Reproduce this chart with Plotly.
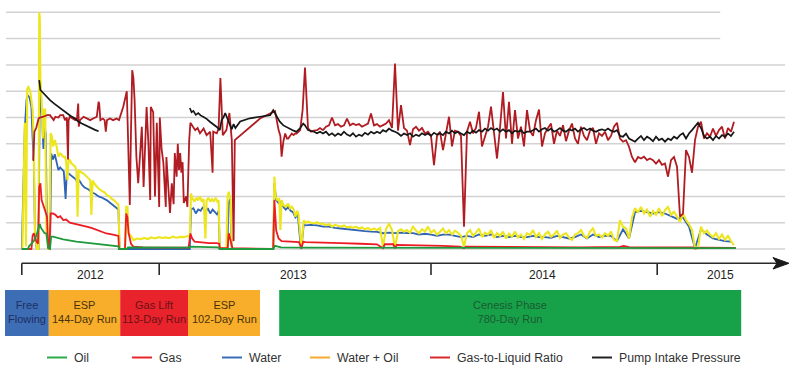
import plotly.graph_objects as go

# ---------------- data (x = days since start of record, y = relative grid units) ----------------
oil_pts = [(28, 0), (38, 0), (40, 0.1), (44, 0.22), (48, 0.3), (52, 0.5), (55, 0.72), (58, 0.95), (60, 0.8),
           (63, 0.72), (66, 0.6), (69, 0.59), (72, 0.03), (75, 0), (77, 0.47), (80, 0.47), (97, 0.37),
           (119, 0.28), (142, 0.22), (164, 0.15), (186, 0.11), (189, 0.1), (190, 0), (203, 0), (205, 0.06),
           (305, 0.05), (309, 0.09), (330, 0.08), (355, 0.06), (358, 0), (447, 0), (450, 0.12), (460, 0.06),
           (500, 0.05), (600, 0.05), (700, 0.04), (800, 0.03), (900, 0.03), (1000, 0.04), (1100, 0.03),
           (1218, 0.03)]

gas_pts = [(28, 0), (44, 0), (46, 0.5), (48, 0.6), (52, 0.3), (55, 0.2), (57, 2.37), (59, 2.5), (61, 1.86),
           (64, 1.6), (67, 1.45), (70, 1.23), (72, 0.05), (74, 0), (76, 1.35), (80, 1.35), (84, 1.3),
           (88, 1.2), (92, 1.25), (97, 1.1), (102, 1.12), (108, 1.0), (114, 0.97), (120, 0.95), (128, 0.9),
           (136, 0.85), (144, 0.8), (153, 0.72), (161, 0.66), (169, 0.59), (178, 0.56), (186, 0.53),
           (189, 0.5), (190, 0), (200, 0), (202, 1.35), (204, 1.2), (206, 0.6), (210, 0.2), (214, 0.09),
           (230, 0.06), (260, 0.05), (290, 0.06), (306, 0.05), (309, 0.59), (312, 0.4), (316, 0.28),
           (325, 0.25), (340, 0.22), (353, 0.22), (357, 0.2), (358, 0.03), (371, 0.03), (373, 0.6),
           (376, 0.3), (379, 0.03), (447, 0), (449, 1.86), (452, 0.7), (456, 0.4), (461, 0.3), (470, 0.29),
           (480, 0.28), (490, 0.26), (494, 0.03), (497, 0.28), (500, 0.26), (520, 0.24), (536, 0.22),
           (560, 0.22), (592, 0.2), (620, 0.18), (630, 0.03), (633, 0.18), (647, 0.18), (650, 0.03),
           (653, 0.16), (680, 0.15), (703, 0.13), (730, 0.12), (758, 0.09), (765, 0.03), (768, 0.09),
           (814, 0.08), (869, 0.06), (958, 0.06), (1025, 0.08), (1031, 0.12), (1040, 0.07), (1047, 0.06),
           (1100, 0.06), (1147, 0.06), (1150, 0.02), (1160, 0.05), (1218, 0.04)]

water_pts = [(28, 0), (31, 2.4), (33, 4.6), (36, 5.7), (38, 5.85), (41, 5.75), (44, 5.4), (46, 4.2),
             (48, 3.4), (50, 0.5), (53, 0), (56, 0), (58, 6.4), (60, 5.4), (62, 4.9), (64, 3.8), (66, 4.6),
             (68, 4.4), (70, 0.5), (73, 0), (75, 0), (77, 3.63), (80, 3.4), (83, 3.6), (86, 3.3), (89, 3.0),
             (92, 3.1), (95, 3.0), (98, 2.95), (101, 1.9), (103, 2.9), (106, 2.87), (110, 2.8), (114, 2.7),
             (118, 2.65), (121, 2.5), (124, 2.6), (128, 2.45), (132, 2.35), (136, 2.3), (140, 2.25),
             (145, 2.15), (150, 2.1), (156, 2.0), (162, 1.95), (170, 1.85), (178, 1.7), (186, 1.55),
             (189, 1.5), (191, 0), (308, 0), (310, 1.5), (314, 1.55), (318, 1.35), (322, 1.5), (326, 1.45),
             (330, 1.6), (334, 1.4), (338, 1.55), (342, 1.35), (346, 1.5), (350, 1.4), (354, 1.3),
             (356, 1.45), (358, 0), (371, 0), (372, 1.7), (375, 1.9), (378, 0), (447, 0), (449, 2.5),
             (452, 1.86), (456, 1.75), (460, 1.8), (464, 1.6), (468, 1.5), (472, 1.6), (476, 1.45),
             (480, 1.4), (484, 1.2), (488, 1.3), (492, 0.3), (494, 0), (496, 0.5), (498, 0.95)]
water_cen = [0.9, 0.92, 0.9, 0.85, 0.85, 0.8, 0.78, 0.75, 0.72, 0.7,
             0.68, 0.66, 0.65, 0.6, 0.62, 0.6, 0.62, 0.6, 0.6, 0.55,
             0.58, 0.55, 0.5, 0.55, 0.55, 0.5, 0.45, 0.5, 0.45, 0.55,
             0.5, 0.55, 0.45, 0.5, 0.45, 0.5, 0.45, 0.45, 0.5, 0.45,
             0.45, 0.42, 0.5, 0.45, 0.4, 0.45, 0.55, 0.4, 0.55, 0.45,
             0.5, 0.5, 0.3, 0.75, 0.4, 1.4, 1.45, 1.4, 1.35, 1.4,
             1.35, 1.25, 1.15, 1.2, 0.85, 0.03, 0.75, 0.55, 0.4, 0.35,
             0.3, 0.28]

wo_pts = [(29, 0), (31, 2.6), (33, 4.8), (34, 2.2), (35, 0.1), (37, 6.1), (39, 6.16), (42, 6.0), (44, 5.7),
          (46, 5.3), (48, 4.0), (50, 0.6), (53, 0), (56, 0), (57, 9.0), (58, 8.8), (59, 6.5), (61, 5.66),
          (63, 4.2), (65, 5.3), (67, 5.3), (69, 0.6), (72, 0), (74, 0), (76, 4.4), (78, 4.3), (80, 3.9),
          (83, 4.14), (86, 3.9), (89, 3.51), (92, 3.63), (94, 3.6), (97, 3.5), (100, 3.51), (102, 3.3),
          (104, 2.62), (106, 3.4), (108, 3.38), (111, 3.25), (114, 3.2), (117, 3.13), (119, 3.0),
          (121, 1.23), (123, 3.0), (125, 2.95), (128, 2.9), (131, 2.87), (134, 2.8), (137, 2.75),
          (140, 2.68), (142, 2.62), (144, 1.29), (146, 2.6), (150, 2.45), (156, 2.3), (162, 2.2),
          (166, 2.15), (170, 2.05), (174, 2.0), (178, 1.9), (182, 1.85), (186, 1.75), (189, 1.7), (191, 0),
          (200, 0), (202, 1.6), (204, 1.6), (206, 0.6), (210, 0.5), (214, 0.34), (220, 0.4), (226, 0.37),
          (232, 0.42), (238, 0.38), (244, 0.44), (250, 0.4), (256, 0.45), (262, 0.42), (268, 0.44),
          (274, 0.41), (280, 0.47), (286, 0.43), (292, 0.46), (298, 0.45), (304, 0.49), (308, 0.47),
          (310, 2.11), (313, 1.9), (316, 1.8), (319, 1.95), (322, 1.85), (325, 2.0), (328, 1.8), (331, 1.9),
          (334, 0.4), (336, 1.85), (339, 1.95), (342, 1.8), (345, 1.9), (348, 1.8), (351, 1.95), (354, 1.8),
          (356, 1.85), (358, 0.03), (363, 0.03), (369, 0.03), (371, 2.0), (373, 2.18), (376, 1.86),
          (378, 0.03), (381, 0), (447, 0), (449, 2.75), (451, 1.99), (454, 1.86), (457, 1.9), (459, 0.72),
          (461, 1.86), (464, 1.67), (468, 1.6), (472, 1.73), (475, 1.55), (478, 1.61), (481, 1.5),
          (484, 1.23), (487, 1.45), (489, 1.35), (492, 0.34), (494, 0.03), (496, 0.6), (498, 1.1)]
wo_cen = [1.0, 1.04, 1.0, 0.97, 1.02, 0.95, 0.97, 0.9, 0.95, 0.85,
          0.92, 0.88, 0.85, 0.9, 0.82, 0.85, 0.8, 0.85, 0.78, 0.82,
          0.75, 0.8, 0.72, 0.78, 0.72, 0.8, 0.1, 0.75, 0.97, 0.72,
          0.05, 0.68, 0.75, 0.66, 0.72, 0.62, 0.85, 0.7, 0.6, 0.75,
          0.66, 0.85, 0.62, 0.72, 0.55, 0.66, 0.78, 0.6, 0.72, 0.55,
          0.7, 0.62, 0.5, 0.1, 0.6, 0.72, 0.5, 0.62, 0.78, 0.45,
          0.62, 0.55, 0.72, 0.42, 0.6, 0.5, 0.66, 0.4, 0.58, 0.47,
          0.66, 0.44, 0.55, 0.38, 0.6, 0.53, 0.72, 0.45, 0.6, 0.38,
          0.55, 0.66, 0.47, 0.55, 0.7, 0.42, 0.55, 0.6, 0.44, 0.35,
          0.55, 0.6, 0.72, 0.5, 0.42, 0.66, 0.78, 0.5, 0.55, 0.44,
          0.6, 0.5, 0.66, 0.35, 0.3, 1.1, 0.85, 0.78, 0.4, 1.2,
          1.55, 1.4, 1.6, 1.35, 1.5, 1.23, 1.45, 1.3, 1.55, 1.25,
          1.48, 1.6, 1.3, 1.42, 1.2, 1.04, 1.35, 1.1, 0.95, 0.72,
          0.03, 0.03, 0.85, 0.6, 0.7, 0.55, 0.45, 0.6, 0.38, 0.55,
          0.35, 0.5, 0.3, 0.15]

glr_pts = [(46, 3.38), (47, 3.38), (49, 4.46), (52, 4.6), (56, 4.96), (58, 5.0), (64, 5.03), (70, 5.09),
           (75, 5.09), (78, 5.0), (81, 4.9), (84, 5.03), (89, 5.0), (92, 5.09), (97, 5.09), (100, 4.9),
           (103, 5.0), (105, 3.4), (106, 4.9), (108, 5.03), (114, 4.96), (117, 4.9), (120, 4.96),
           (122, 5.53), (123, 4.65), (125, 4.9), (131, 5.03), (136, 4.96), (142, 4.9), (147, 4.96),
           (153, 5.03), (156, 5.6), (157, 5.53), (159, 4.9), (163, 4.96), (166, 4.9), (168, 4.46),
           (170, 4.9), (175, 4.96), (180, 4.9), (186, 4.96), (190, 4.9), (197, 5.4), (203, 6.0),
           (206, 3.5), (208, 1.67), (210, 4.5), (212, 6.8), (214, 6.5), (216, 5.66), (219, 3.5),
           (222, 2.5), (226, 3.9), (228, 4.65), (231, 2.36), (236, 5.4), (239, 4.0), (242, 1.86),
           (243, 5.4), (247, 5.2), (250, 2.0), (253, 4.8), (257, 1.6), (258, 5.0), (261, 3.8), (264, 3.27),
           (268, 1.6), (269, 3.5), (272, 2.4), (275, 1.37), (278, 2.5), (281, 1.7), (283, 3.65),
           (286, 2.75), (288, 4.0), (290, 3.0), (292, 3.65), (294, 2.9), (296, 3.3), (298, 1.75),
           (302, 2.0), (304, 1.6), (307, 4.14), (309, 4.8), (317, 4.52), (321, 4.6), (325, 4.4),
           (331, 4.58), (336, 4.33), (342, 4.46), (346, 2.9), (347, 4.46), (353, 4.4), (356, 4.58),
           (359, 6.5), (363, 4.33), (369, 4.52), (374, 5.17), (378, 4.14), (381, 0.3), (383, 4.14),
           (425, 4.96), (450, 5.24), (453, 4.8), (456, 4.52), (459, 4.3), (461, 3.51), (464, 4.1),
           (467, 4.39), (470, 4.2), (472, 4.2), (475, 4.3), (478, 4.39), (481, 4.33), (484, 4.4),
           (486, 4.39), (489, 4.46), (492, 4.52), (496, 5.28), (498, 5.9)]
glr_cen = [6.9, 4.6, 4.46, 4.5, 4.52, 4.6, 4.52, 4.65, 4.7, 5.0,
           4.7, 4.75, 4.65, 4.7, 4.96, 4.7, 4.77, 4.71, 4.75, 4.65,
           4.71, 4.77, 5.15, 4.7, 4.75, 4.65, 4.71, 4.77, 4.9, 4.6,
           7.05, 4.5, 5.47, 4.6, 4.5, 3.95, 4.55, 4.65, 4.5, 4.6,
           4.39, 4.46, 4.3, 3.19, 4.3, 4.46, 3.76, 4.4, 5.03, 3.9,
           4.5, 4.46, 4.3, 0.85, 4.46, 4.84, 4.4, 4.6, 5.22, 3.9,
           4.3, 4.65, 5.41, 4.4, 3.44, 4.6, 5.97, 4.2, 5.6, 4.0,
           5.28, 4.2, 4.65, 3.9, 5.28, 4.5, 4.3, 4.9, 5.3, 3.9,
           4.4, 4.6, 4.77, 4.0, 4.5, 4.3, 4.71, 4.1, 4.5, 4.77,
           4.2, 4.0, 4.65, 4.3, 4.14, 4.5, 4.6, 4.0, 4.4, 4.3,
           4.46, 4.14, 4.3, 4.65, 4.8, 4.2, 4.08, 4.14, 3.89, 3.5,
           3.3, 3.5, 3.44, 3.51, 3.38, 3.44, 3.38, 3.25, 3.38, 3.2,
           3.25, 2.75, 3.38, 3.5, 3.13, 1.23, 1.35, 3.76, 3.5, 2.9,
           4.14, 4.65, 4.84, 4.2, 4.4, 4.27, 4.58, 4.3, 4.52, 4.65,
           4.2, 4.6, 4.46, 4.84]

pip_pts = [(57, 6.42), (58, 6.2), (59, 6.04), (63, 5.95), (67, 5.85), (71, 5.75), (75, 5.66), (82, 5.53),
           (89, 5.41), (96, 5.28), (103, 5.15), (110, 5.05), (117, 4.96), (122, 4.85), (128, 4.77),
           (134, 4.7), (139, 4.65), (145, 4.58), (150, 4.53), (156, 4.48), (157, None),
           (308, 5.36), (311, 5.2), (314, 5.25), (318, 5.1), (322, 5.17), (326, 5.08), (331, 5.02),
           (336, 4.95), (342, 4.83), (347, 4.75), (353, 4.64), (358, 4.52), (361, 4.9), (364, 5.0),
           (367, 5.17), (370, 5.0), (372, 4.9), (375, 4.7), (378, 4.55), (381, 4.75), (384, 4.6),
           (392, 4.85), (408, 4.97), (425, 5.03), (442, 5.09), (447, 5.28), (452, 5.1), (458, 4.84),
           (464, 4.7), (470, 4.62), (475, 4.58), (481, 4.5), (486, 4.46), (492, 4.6), (497, 4.77)]
pip_cen = [4.7, 4.52, 4.5, 4.46, 4.4, 4.46, 4.39, 4.46, 4.33, 4.4,
           4.3, 4.39, 4.33, 4.46, 4.35, 4.3, 4.4, 4.27, 4.35, 4.3,
           4.42, 4.35, 4.46, 4.39, 4.46, 4.4, 4.52, 4.46, 4.58, 4.5,
           4.46, 4.4, 4.3, 4.39, 4.33, 4.4, 4.27, 4.35, 4.3, 4.4,
           4.33, 4.39, 4.3, 4.42, 4.35, 4.4, 4.33, 4.46, 4.39, 4.5,
           4.4, 4.46, 4.39, 4.33, 4.46, 4.39, 4.5, 4.42, 4.52, 4.46,
           4.58, 4.5, 4.6, 4.52, 4.58, 4.46, 4.55, 4.46, 4.52, 4.4,
           4.5, 4.46, 4.52, 4.4, 4.46, 4.46, 4.52, 4.58, 4.46, 4.55,
           4.6, 4.5, 4.58, 4.46, 4.52, 4.6, 4.5, 4.46, 4.55, 4.5,
           4.58, 4.46, 4.55, 4.6, 4.52, 4.58, 4.5, 4.46, 4.52, 4.55,
           4.5, 4.58, 4.5, 4.46, 4.52, 4.3, 4.27, 4.39, 4.2, 4.14,
           4.08, 4.2, 4.3, 4.14, 4.27, 4.2, 4.1, 4.27, 4.14, 4.2,
           4.08, 4.2, 4.14, 4.27, 4.2, 4.33, 4.4, 4.2, 4.39, 4.52,
           4.65, 4.8, 4.6, 4.3, 4.2, 4.27, 4.14, 4.3, 4.2, 4.33,
           4.27, 4.39, 4.3, 4.46]

CEN_START = 500            # daily record sampled every 5 days (10 for water)
cen_days5 = list(range(CEN_START, CEN_START + 5 * len(glr_cen), 5))
cen_days10 = list(range(CEN_START, CEN_START + 10 * len(water_cen), 10))

# timeline / phases
year_labels = ["2012", "2013", "2014", "2015"]
year_label_days = [142, 480, 895, 1192]
year_tick_days = [28, 257, 710, 1087]
timeline_end_day = 1305
phase_names = ["Free<br>Flowing", "ESP<br>144-Day Run", "Gas Lift<br>113-Day Run",
               "ESP<br>102-Day Run", "Cenesis Phase<br>780-Day Run"]
phase_start = [0, 73, 192, 305, 457]
phase_end = [73, 192, 305, 425, 1227]
phase_fill = ["#3d6db4", "#f8ae2a", "#e8232c", "#f8ae2a", "#17a24a"]
phase_text = ["#1e2e63", "#4a3208", "#6e1014", "#4a3208", "#1b5a30"]

grid_levels = list(range(10))

series_names = ["Oil", "Gas", "Water", "Water + Oil", "Gas-to-Liquid Ratio", "Pump Intake Pressure"]
line_colors = ["#1e9a3c", "#ec1c24", "#2f63b4", "#ede61e", "#b11c22", "#151515"]
legend_colors = ["#2bab4a", "#e8262c", "#3a6db8", "#f7a935", "#d62a2e", "#222222"]
legend_x_px = [47, 132, 222, 310, 430, 592]

# ---------------- figure ----------------
W, H = 800, 368


def unzip(pts):
    return [p[0] for p in pts], [p[1] for p in pts]


fig = go.Figure()

ox, oy = unzip(oil_pts)
gx, gy = unzip(gas_pts)
wx, wy = unzip(water_pts)
wx += cen_days10
wy += water_cen
yx, yy = unzip(wo_pts)
yx += cen_days5
yy += wo_cen
rx, ry = unzip(glr_pts)
rx += cen_days5
ry += glr_cen
px_, py_ = unzip(pip_pts)
px_ += cen_days5
py_ += pip_cen

order = [(wx, wy, 2, 1.8), (yx, yy, 3, 2.1), (gx, gy, 1, 1.8), (ox, oy, 0, 1.8),
         (rx, ry, 4, 1.8), (px_, py_, 5, 1.7)]
for xs, ys, idx, w in order:
    fig.add_trace(go.Scatter(x=xs, y=ys, mode="lines", name=series_names[idx],
                             line=dict(color=line_colors[idx], width=w),
                             connectgaps=False, showlegend=False, hoverinfo="skip"))

shapes = []
# horizontal gridlines (top two are shorter)
for lv in grid_levels:
    shapes.append(dict(type="line", xref="x", yref="y", x0=1.7, x1=1192 if lv >= 8 else 1300,
                       y0=lv, y1=lv, line=dict(color="#d2d2d2", width=1.5), layer="below"))


def py2paper(py):
    return 1 - py / H


# timeline axis
tl_y = py2paper(263.3)
shapes.append(dict(type="line", xref="x", yref="paper", x0=year_tick_days[0], x1=timeline_end_day - 8,
                   y0=tl_y, y1=tl_y, line=dict(color="#2a2a2a", width=1.6)))
for d in year_tick_days:
    shapes.append(dict(type="line", xref="x", yref="paper", x0=d, x1=d, y0=tl_y, y1=py2paper(275),
                       line=dict(color="#2a2a2a", width=1.6)))
shapes.append(dict(type="path", xref="paper", yref="paper",
                   path=f"M {773/W},{py2paper(257.5)} L {789/W},{tl_y} L {773/W},{py2paper(269)} "
                        f"L {777/W},{tl_y} Z",
                   fillcolor="#1a1a1a", line=dict(color="#1a1a1a", width=1)))

annotations = []
for lab, d in zip(year_labels, year_label_days):
    annotations.append(dict(x=d, y=py2paper(275), xref="x", yref="paper", text=lab, showarrow=False,
                            font=dict(family="Liberation Sans, Arial, sans-serif", size=12, color="#222222"),
                            xanchor="center", yanchor="middle"))

# phase boxes
for nm, s, e, fc, tc in zip(phase_names, phase_start, phase_end, phase_fill, phase_text):
    shapes.append(dict(type="rect", xref="x", yref="paper", x0=s, x1=e, y0=py2paper(336), y1=py2paper(290),
                       fillcolor=fc, line=dict(width=0)))
    annotations.append(dict(x=(s + e) / 2, y=py2paper(312), xref="x", yref="paper", text=nm,
                            showarrow=False, align="center", xanchor="center", yanchor="middle",
                            font=dict(family="Liberation Sans, Arial, sans-serif", size=11, color=tc)))

# legend
leg_y = py2paper(357.5)
for nm, lc, lx in zip(series_names, legend_colors, legend_x_px):
    shapes.append(dict(type="line", xref="paper", yref="paper", x0=lx / W, x1=(lx + 20) / W,
                       y0=leg_y, y1=leg_y, line=dict(color=lc, width=2)))
    annotations.append(dict(x=(lx + 25) / W, y=leg_y, xref="paper", yref="paper", text=nm, showarrow=False,
                            xanchor="left", yanchor="middle",
                            font=dict(family="Liberation Sans, Arial, sans-serif", size=12.3, color="#333333")))

fig.update_layout(
    width=W, height=H,
    margin=dict(l=0, r=0, t=0, b=0),
    paper_bgcolor="white", plot_bgcolor="white",
    xaxis=dict(range=[-8.33, 1325], domain=[0, 1], visible=False, fixedrange=True),
    yaxis=dict(range=[-0.327, 9.468], domain=[0.3, 1], visible=False, fixedrange=True),
    shapes=shapes, annotations=annotations, showlegend=False,
)

fig.write_html("out.html", config={"displayModeBar": False},
               post_script="document.body.style.margin='0px';document.body.style.overflow='hidden';")
